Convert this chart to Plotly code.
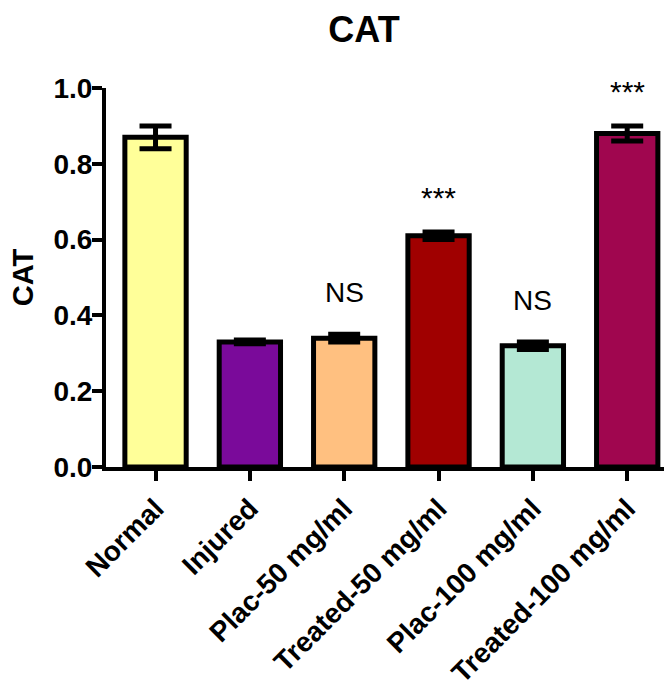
import plotly.graph_objects as go

# CAT activity per group, mean and error
groups = ["Normal", "Injured", "Plac-50 mg/ml", "Treated-50 mg/ml",
          "Plac-100 mg/ml", "Treated-100 mg/ml"]
cat_mean = [0.87, 0.33, 0.34, 0.61, 0.32, 0.88]
cat_err = [0.03, 0.005, 0.01, 0.01, 0.01, 0.02]
significance = ["", "", "NS", "***", "NS", "***"]
bar_colors = ["#FFFF99", "#7A0A9A", "#FFC080", "#A00000", "#B4E8D4", "#A0064F"]

FONT = "Liberation Sans, Arial, sans-serif"
x_idx = list(range(len(groups)))

fig = go.Figure()
fig.add_trace(go.Bar(
    x=x_idx,
    y=cat_mean,
    width=0.65,
    marker=dict(color=bar_colors, line=dict(color="black", width=5)),
    error_y=dict(type="data", array=cat_err, visible=True,
                 color="black", thickness=5, width=16),
    cliponaxis=False,
    showlegend=False,
))

# significance labels above the bars
for i, (m, e, s) in enumerate(zip(cat_mean, cat_err, significance)):
    if not s:
        continue
    is_star = s.startswith("*")
    fig.add_annotation(
        x=i, y=m + e + (0.11 if not is_star else 0.09),
        text=s, showarrow=False, yanchor="middle",
        font=dict(family=FONT, size=28 if not is_star else 30, color="black"),
    )

fig.update_layout(
    width=664, height=682,
    margin=dict(l=106, r=0, t=88, b=215),
    paper_bgcolor="white", plot_bgcolor="white",
    font=dict(family=FONT, color="black"),
    title=dict(text="<b>CAT</b>", x=364 / 664, xanchor="center",
               y=1 - 29 / 682, yanchor="middle",
               font=dict(family=FONT, size=36, color="black")),
    bargap=0.35,
)

fig.update_xaxes(
    range=[-0.525, 5.39],
    tickmode="array", tickvals=x_idx,
    ticktext=[f"<b>{g}</b>" for g in groups],
    tickangle=-45,
    tickfont=dict(family=FONT, size=28, color="black"),
    showline=True, linecolor="black", linewidth=4,
    ticks="outside", ticklen=10, tickwidth=4, tickcolor="black",
    showgrid=False, zeroline=False,
    automargin=False,
)

fig.update_yaxes(
    range=[0, 1.0], dtick=0.2, tickformat=".1f",
    tickfont=dict(family=FONT, size=28, color="black"),
    tickprefix="<b>", ticksuffix="</b>",
    ticklabelstandoff=-6,
    showline=True, linecolor="black", linewidth=4,
    ticks="outside", ticklen=10, tickwidth=4, tickcolor="black",
    showgrid=False, zeroline=False,
    automargin=False,
    title=dict(text="<b>CAT</b>", standoff=12,
               font=dict(family=FONT, size=29, color="black")),
)

fig.write_html("out.html")
